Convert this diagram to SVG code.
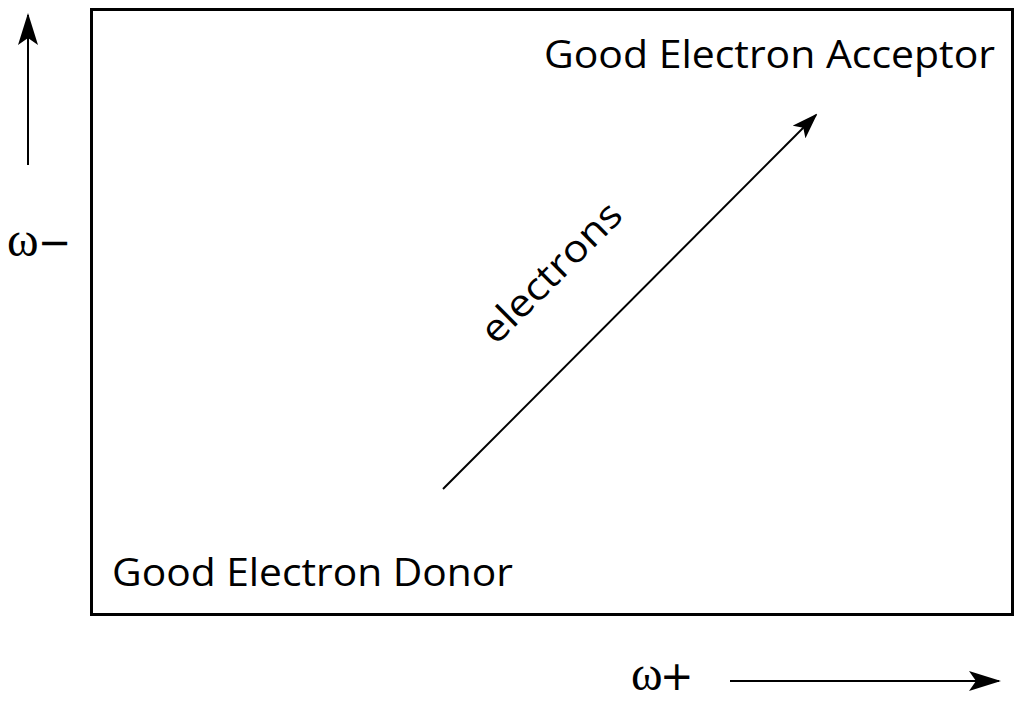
<svg xmlns="http://www.w3.org/2000/svg" width="1024" height="706" viewBox="0 0 1024 706">
<style>
.t{font-family:"Open Sans","Noto Sans",sans-serif;font-size:38px;fill:#000}
.s{font-family:"Liberation Serif",serif;font-size:48px;fill:#000}
.g{font-family:"DejaVu Sans",sans-serif;font-size:40px}
.ln{stroke:#000;stroke-width:2;fill:none}
</style>
<defs>
<marker id="ah" viewBox="0 0 32 20" refX="30" refY="10" markerWidth="32" markerHeight="20" markerUnits="userSpaceOnUse" orient="auto">
<path d="M0,0 L32,10 L0,20 L7,10 Z" fill="#000"/>
</marker>
<marker id="ah2" viewBox="0 0 26 18" refX="24" refY="9" markerWidth="26" markerHeight="18" markerUnits="userSpaceOnUse" orient="auto">
<path d="M0,0 L26,9 L0,18 L6,9 Z" fill="#000"/>
</marker>
</defs>
<rect width="1024" height="706" fill="#fff"/>
<g id="box"><rect x="91.5" y="9.5" width="921" height="605" fill="none" stroke="#000" stroke-width="3"/></g>
<g id="connectors">
<line class="ln" x1="28" y1="165" x2="28" y2="15" marker-end="url(#ah)"/>
<line class="ln" x1="730" y1="681" x2="999" y2="681" marker-end="url(#ah)"/>
<line class="ln" x1="443" y1="489" x2="816" y2="115" marker-end="url(#ah2)"/>
</g>
<g id="acceptor"><text class="t" x="544" y="68" textLength="451" lengthAdjust="spacingAndGlyphs">Good Electron Acceptor</text></g>
<g id="donor"><text class="t" x="112" y="586" textLength="401" lengthAdjust="spacingAndGlyphs">Good Electron Donor</text></g>
<g id="electrons"><text class="t" transform="translate(496,346) rotate(-45)" textLength="182" lengthAdjust="spacingAndGlyphs">electrons</text></g>
<g id="wminus"><text class="s" x="7" y="256">ω<tspan class="g" x="38">−</tspan></text></g>
<g id="wplus"><text class="s" x="631" y="690">ω<tspan class="g" x="660">+</tspan></text></g>
</svg>
